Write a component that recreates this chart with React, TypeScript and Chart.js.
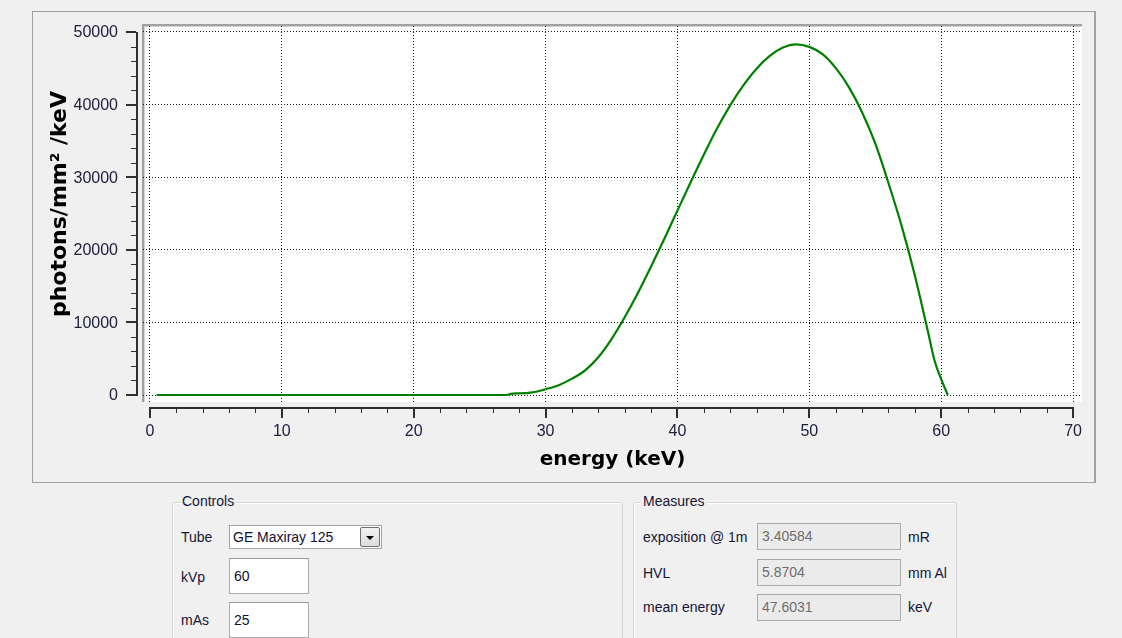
import React, { useEffect, useRef } from "react";
import { Chart, registerables } from "chart.js";

Chart.register(...registerables);

// ---- data ----
const energyKeV = [
  0.5, 1, 2, 3, 4, 5, 6, 7, 8, 9, 10, 11, 12, 13, 14, 15, 16, 17, 18, 19, 20,
  21, 22, 23, 24, 25, 26, 27, 27.5, 28, 29, 30, 31, 32, 33, 34, 35, 36, 37, 38,
  39, 40, 41, 42, 43, 44, 45, 46, 47, 48, 49, 50, 51, 52, 53, 54, 55, 56, 57,
  58, 59, 59.5, 60, 60.5,
];
const photons = [
  0, 0, 0, 0, 0, 0, 0, 0, 0, 0, 0, 0, 0, 0, 0, 0, 0, 0, 0, 0, 0, 0, 0, 0, 0, 0,
  0, 0, 200, 220, 360, 800, 1350, 2250, 3400, 5200, 7700, 10700, 14050, 17700,
  21500, 25400, 29300, 33100, 36700, 39900, 42650, 44950, 46700, 47850, 48300,
  47950, 46950, 45050, 42400, 38950, 34650, 29200, 23300, 16500, 8700, 4720,
  2200, 0,
];
const xMajorTicks = [0, 10, 20, 30, 40, 50, 60, 70];
const yMajorTicks = [0, 10000, 20000, 30000, 40000, 50000];
const xMinorStep = 2;
const yMinorStep = 2000;
const xTitle = "energy (keV)";
const yTitle = "photons/mm² /keV";
const xRange = [-0.53, 70.68];
const yRange = [-964, 50826];

const tubeName = "GE Maxiray 125";
const kVp = "60";
const mAs = "25";
const measureLabels = ["exposition @ 1m", "HVL", "mean energy"];
const measureValues = ["3.40584", "5.8704", "47.6031"];
const measureUnits = ["mR", "mm Al", "keV"];

const TICK_FONT = '16px "Liberation Sans", Arial, sans-serif';
const X_TITLE_FONT = 'bold 20px "DejaVu Sans", Verdana, sans-serif';
const Y_TITLE_FONT = 'bold 22px "DejaVu Sans", Verdana, sans-serif';
const LABEL_COLOR = "#202040";

const guiAxes = {
  id: "guiAxes",
  beforeDraw(chart: any) {
    const { ctx, chartArea: a } = chart;
    ctx.save();
    ctx.fillStyle = "#ffffff";
    ctx.fillRect(a.left, a.top, a.right - a.left, a.bottom - a.top);
    ctx.fillStyle = "#a0a0a0";
    ctx.fillRect(a.left - 1, a.top - 2, a.right - a.left + 1, 2);
    ctx.fillRect(a.left - 1, a.top - 2, 2, a.bottom - a.top + 2);
    ctx.fillStyle = "#d4d4d4";
    ctx.fillRect(a.left + 1, a.top, a.right - a.left - 1, 1);
    ctx.fillRect(a.left + 1, a.top, 1, a.bottom - a.top);
    ctx.restore();
  },
  afterDraw(chart: any) {
    const { ctx, chartArea: a } = chart;
    const xs = chart.scales.x;
    const ys = chart.scales.y;
    ctx.save();
    ctx.fillStyle = "#303030";

    // Y axis (detached, left of plot)
    const axX = a.left - 7;
    const yTop = Math.round(ys.getPixelForValue(yMajorTicks[yMajorTicks.length - 1]));
    const yBot = Math.round(ys.getPixelForValue(yMajorTicks[0]));
    ctx.fillRect(axX, yTop, 2, yBot - yTop + 1);
    for (let v = yMajorTicks[0]; v <= yMajorTicks[yMajorTicks.length - 1]; v += yMinorStep) {
      const py = Math.round(ys.getPixelForValue(v));
      const major = yMajorTicks.includes(v);
      if (major) ctx.fillRect(axX - 10, py - 1, 10, 2);
      else ctx.fillRect(axX - 5, py, 5, 1);
    }
    ctx.font = TICK_FONT;
    ctx.fillStyle = LABEL_COLOR;
    ctx.textAlign = "right";
    ctx.textBaseline = "middle";
    yMajorTicks.forEach((v) => {
      ctx.fillText(String(v), axX - 18, ys.getPixelForValue(v) + 1);
    });

    // X axis (detached, below plot)
    ctx.fillStyle = "#303030";
    const axY = a.bottom + 5;
    const xL = Math.round(xs.getPixelForValue(xMajorTicks[0]));
    const xR = Math.round(xs.getPixelForValue(xMajorTicks[xMajorTicks.length - 1]));
    ctx.fillRect(xL, axY, xR - xL + 1, 2);
    for (let v = xMajorTicks[0]; v <= xMajorTicks[xMajorTicks.length - 1]; v += xMinorStep) {
      const px = Math.round(xs.getPixelForValue(v));
      const major = xMajorTicks.includes(v);
      if (major) ctx.fillRect(px - 1, axY, 2, 11);
      else ctx.fillRect(px, axY, 1, 6);
    }
    ctx.fillStyle = LABEL_COLOR;
    ctx.textAlign = "center";
    ctx.textBaseline = "middle";
    xMajorTicks.forEach((v) => {
      ctx.fillText(String(v), xs.getPixelForValue(v), axY + 25);
    });

    // Titles
    ctx.fillStyle = "#000000";
    ctx.font = X_TITLE_FONT;
    ctx.textAlign = "center";
    ctx.textBaseline = "alphabetic";
    ctx.fillText(xTitle, (a.left + a.right) / 2, axY + 58);

    ctx.save();
    ctx.font = Y_TITLE_FONT;
    ctx.translate(a.left - 83, (a.top + a.bottom) / 2 - 10);
    ctx.rotate(-Math.PI / 2);
    ctx.textBaseline = "middle";
    ctx.fillText(yTitle, 0, 0);
    ctx.restore();

    ctx.restore();
  },
};

function Field(props: {
  left: number;
  top: number;
  width: number;
  height: number;
  text: string;
  disabled?: boolean;
}) {
  return (
    <div
      style={{
        position: "absolute",
        left: props.left,
        top: props.top,
        width: props.width,
        height: props.height,
        boxSizing: "border-box",
        border: "1px solid " + (props.disabled ? "#adadad" : "#abadb3"),
        borderTopColor: props.disabled ? "#a6a6a6" : "#9a9da4",
        background: props.disabled ? "#ebebeb" : "#ffffff",
        color: props.disabled ? "#6d6d6d" : "#101030",
        paddingLeft: 4,
        lineHeight: props.height - 2 + "px",
        whiteSpace: "nowrap",
      }}
    >
      {props.text}
    </div>
  );
}

function Label(props: { left: number; cy: number; text: string }) {
  return (
    <div
      style={{
        position: "absolute",
        left: props.left,
        top: props.cy - 9,
        height: 18,
        lineHeight: "18px",
        whiteSpace: "nowrap",
        color: "#151535",
      }}
    >
      {props.text}
    </div>
  );
}

function GroupBox(props: { left: number; top: number; width: number; title: string }) {
  return (
    <>
      <div
        style={{
          position: "absolute",
          left: props.left,
          top: props.top,
          width: props.width,
          height: 300,
          boxSizing: "border-box",
          border: "1px solid #d5d5d5",
          borderRadius: 3,
          boxShadow: "inset 1px 1px 0 #ffffff",
        }}
      />
      <div
        style={{
          position: "absolute",
          left: props.left + 8,
          top: props.top - 10,
          padding: "0 2px",
          background: "#f0f0f0",
          lineHeight: "18px",
          color: "#151535",
          whiteSpace: "nowrap",
        }}
      >
        {props.title}
      </div>
    </>
  );
}

export default function App() {
  const canvasRef = useRef<HTMLCanvasElement | null>(null);

  useEffect(() => {
    const canvas = canvasRef.current;
    if (!canvas) return;
    const chart = new Chart(canvas, {
      type: "line",
      data: {
        datasets: [
          {
            data: energyKeV.map((e, i) => ({ x: e, y: photons[i] })),
            borderColor: "#008000",
            borderWidth: 2.2,
            pointRadius: 0,
            fill: false,
            cubicInterpolationMode: "monotone",
          },
        ],
      },
      options: {
        animation: false,
        responsive: false,
        devicePixelRatio: 1,
        layout: { padding: { left: 143, top: 26, right: 40, bottom: 80 } },
        plugins: {
          legend: { display: false },
          tooltip: { enabled: false },
        },
        scales: {
          x: {
            type: "linear",
            min: xRange[0],
            max: xRange[1],
            afterBuildTicks: (s: any) => {
              s.ticks = xMajorTicks.map((v) => ({ value: v }));
            },
            ticks: { display: false },
            grid: { color: "#1a1a1a", lineWidth: 1, drawTicks: false },
            border: { display: false, dash: [1, 2] },
          },
          y: {
            type: "linear",
            min: yRange[0],
            max: yRange[1],
            afterBuildTicks: (s: any) => {
              s.ticks = yMajorTicks.map((v) => ({ value: v }));
            },
            ticks: { display: false },
            grid: { color: "#1a1a1a", lineWidth: 1, drawTicks: false },
            border: { display: false, dash: [1, 2] },
          },
        },
      } as any,
      plugins: [guiAxes],
    });
    return () => chart.destroy();
  }, []);

  return (
    <div
      style={{
        position: "fixed",
        left: 0,
        top: 0,
        width: 1122,
        height: 638,
        overflow: "hidden",
        background: "#f0f0f0",
        fontFamily: '"Liberation Sans", Arial, sans-serif',
        fontSize: 14,
      }}
    >
      <div
        style={{
          position: "absolute",
          left: 32,
          top: 11,
          width: 1064,
          height: 472,
          boxSizing: "border-box",
          border: "1px solid #a0a0a0",
          borderRightWidth: 2,
        }}
      />
      <canvas
        ref={canvasRef}
        width={1122}
        height={482}
        style={{ position: "absolute", left: 0, top: 0, width: 1122, height: 482 }}
      />

      <GroupBox left={172} top={502} width={451} title="Controls" />
      <Label left={181} cy={537} text="Tube" />
      <div
        style={{
          position: "absolute",
          left: 229,
          top: 525,
          width: 153,
          height: 24,
          boxSizing: "border-box",
          border: "1px solid #a5a5a5",
          background: "#ffffff",
          color: "#101030",
          paddingLeft: 3,
          lineHeight: "22px",
          whiteSpace: "nowrap",
        }}
      >
        {tubeName}
        <div
          style={{
            position: "absolute",
            right: 1,
            top: 1,
            width: 20,
            height: 20,
            boxSizing: "border-box",
            border: "1px solid #707070",
            borderRadius: 2,
            background: "linear-gradient(#f2f2f2, #dcdcdc)",
          }}
        >
          <div
            style={{
              position: "absolute",
              left: 5,
              top: 8,
              width: 0,
              height: 0,
              borderLeft: "4px solid transparent",
              borderRight: "4px solid transparent",
              borderTop: "4px solid #000",
            }}
          />
        </div>
      </div>
      <Label left={181} cy={577} text="kVp" />
      <Field left={229} top={558} width={80} height={36} text={kVp} />
      <Label left={181} cy={620} text="mAs" />
      <Field left={229} top={602} width={80} height={36} text={mAs} />

      <GroupBox left={633} top={502} width={324} title="Measures" />
      {measureLabels.map((l, i) => (
        <React.Fragment key={l}>
          <Label left={643} cy={[537, 573, 607][i]} text={l} />
          <Field
            left={757}
            top={[523, 559, 594][i]}
            width={144}
            height={27}
            text={measureValues[i]}
            disabled
          />
          <Label left={908} cy={[537, 573, 607][i]} text={measureUnits[i]} />
        </React.Fragment>
      ))}
    </div>
  );
}
